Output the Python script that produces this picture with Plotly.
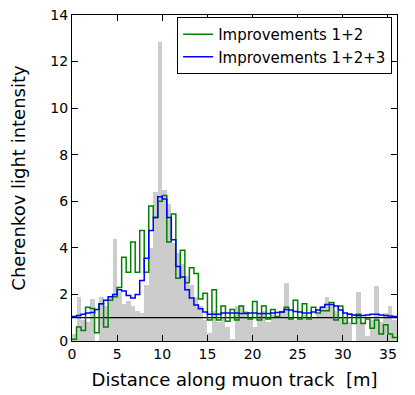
import numpy as np
import plotly.graph_objects as go

# bin edges along the muon track [m] (0.5 m bins)
bin_width = 0.5
edges = np.arange(0, 36 + bin_width / 2, bin_width)
centers = edges[:-1] + bin_width / 2

# gray histogram (measured light)
gray_vals = [
    0.3, 1.9, 0.9, 0.8, 1.8, 0.0, 1.9, 1.5, 1.9, 4.4,
    2.1, 1.6, 1.7, 1.5, 1.3, 1.2, 2.4, 4.0, 6.4, 12.85,
    6.5, 5.9, 4.2, 3.8, 3.3, 2.8, 2.4, 1.9, 1.5, 0.9,
    0.35, 1.3, 0.8, 1.0, 0.6, 0.1, 1.5, 1.55, 1.3, 1.0,
    0.6, 1.2, 1.3, 0.8, 1.1, 1.0, 1.2, 2.5, 1.0, 0.9,
    1.0, 1.1, 0.9, 1.0, 1.2, 1.5, 1.9, 1.6, 1.3, 1.0,
    1.0, 0.8, 0.0, 2.1, 0.8, 0.2, 0.9, 2.35, 0.8, 1.2,
    1.5, 0.9,
]

# Improvements 1+2
green_vals = [
    0.07, 0.6, 0.45, 1.45, 1.4, 0.35, 1.6, 0.6, 1.75, 1.9,
    2.3, 3.6, 2.95, 4.25, 2.95, 4.75, 2.95, 5.8, 5.3, 6.0,
    6.25, 4.25, 5.45, 2.7, 3.9, 2.5, 3.15, 2.9, 1.8, 2.05,
    0.9, 2.2, 0.9, 1.5, 0.85, 1.35, 0.9, 1.5, 1.2, 0.95,
    1.7, 0.9, 1.5, 0.95, 1.35, 1.05, 1.25, 1.45, 0.95, 1.75,
    0.95, 1.6, 0.95, 1.45, 1.2, 1.3, 1.3, 1.65, 0.9, 1.5,
    0.75, 1.15, 0.75, 1.15, 0.75, 0.95, 0.55, 0.9, 0.3, 0.7,
    0.3, 0.15,
]

# Improvements 1+2+3
blue_vals = [
    1.05, 1.1, 1.15, 1.2, 1.22, 1.35, 1.6, 1.75, 1.9, 2.0,
    2.2, 2.15, 1.95, 1.85, 2.0, 2.6, 3.55, 4.75, 5.3, 6.2,
    6.1, 5.3, 4.35, 3.2, 2.75, 2.2, 1.85, 1.55, 1.38, 1.25,
    1.15, 1.15, 1.15, 1.2, 1.2, 1.2, 1.2, 1.18, 1.18, 1.2,
    1.2, 1.18, 1.18, 1.18, 1.2, 1.22, 1.25, 1.35, 1.33, 1.27,
    1.25, 1.2, 1.2, 1.25, 1.33, 1.45, 1.57, 1.57, 1.5, 1.33,
    1.2, 1.15, 1.12, 1.1, 1.1, 1.12, 1.15, 1.15, 1.12, 1.1,
    1.07, 1.05,
]

reference_level = 1.0
x_range = [0, 36]
y_range = [0, 14]
x_ticks = [0, 5, 10, 15, 20, 25, 30, 35]
y_ticks = [0, 2, 4, 6, 8, 10, 12, 14]

font_family = "DejaVu Sans"

fig = go.Figure()

fig.add_trace(go.Bar(
    x=centers, y=gray_vals, width=bin_width,
    marker=dict(color="#cccccc", line=dict(width=0)),
    showlegend=False, hoverinfo="skip",
))

fig.add_trace(go.Scatter(
    x=x_range, y=[reference_level, reference_level], mode="lines",
    line=dict(color="black", width=1.2), showlegend=False, hoverinfo="skip",
))

def step(vals):
    return list(edges), list(vals) + [vals[-1]]

gx, gy = step(green_vals)
fig.add_trace(go.Scatter(
    x=gx, y=gy, mode="lines", line=dict(color="#008000", width=1.5, shape="hv"),
    name="Improvements 1+2",
))
bx, by = step(blue_vals)
fig.add_trace(go.Scatter(
    x=bx, y=by, mode="lines", line=dict(color="#0000ff", width=1.5, shape="hv"),
    name="Improvements 1+2+3",
))

axis_common = dict(
    showline=True, linecolor="black", linewidth=1, mirror="ticks",
    ticks="inside", ticklen=6, tickwidth=1, tickcolor="black",
    showgrid=False, zeroline=False, automargin=False,
    ticklabeloverflow="allow",
    tickfont=dict(family=font_family, size=14, color="black"),
)

fig.update_xaxes(
    range=x_range, tickvals=x_ticks,
    title=dict(text="Distance along muon track\u00a0\u00a0[m]",
               font=dict(family=font_family, size=18, color="black"), standoff=12),
    **axis_common,
)
fig.update_yaxes(
    range=y_range, tickvals=y_ticks,
    title=dict(text="Cherenkov light intensity",
               font=dict(family=font_family, size=18, color="black"), standoff=24),
    **axis_common,
)

# page body has an 8px margin, so the figure is offset by (8, 8) in the window
fig.update_layout(
    width=407, height=387,
    margin=dict(l=64, r=18, t=7, b=54),
    plot_bgcolor="white", paper_bgcolor="white",
    bargap=0,
    font=dict(family=font_family, color="black"),
    legend=dict(
        x=0.985, xanchor="right", y=0.994, yanchor="top",
        bgcolor="white", bordercolor="black", borderwidth=1,
        font=dict(family=font_family, size=15, color="black"),
        tracegroupgap=0,
    ),
)

fig.write_html("out.html")
